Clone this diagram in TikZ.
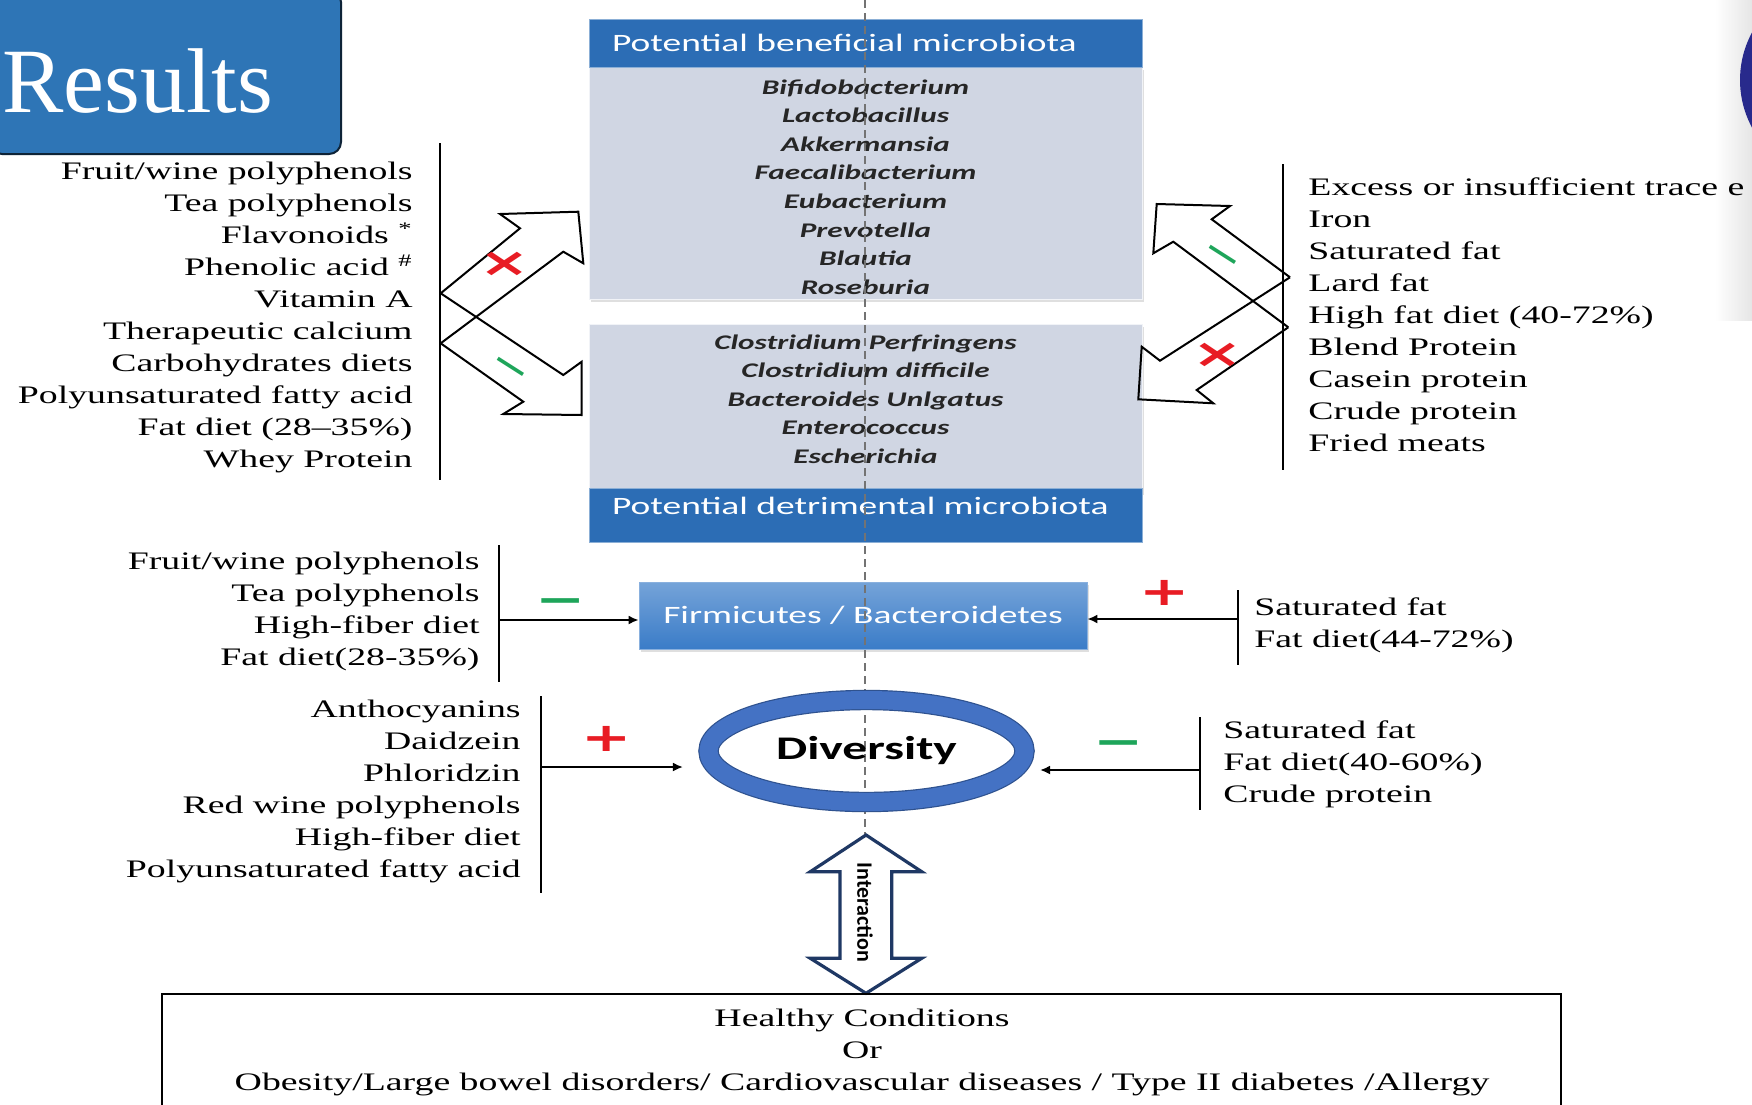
\documentclass[tikz,border=0pt]{standalone}
\usepackage{fontspec}
\setmainfont{Liberation Serif}
\newfontfamily\figserif{Liberation Serif}[FakeStretch=1.5]
\newfontfamily\figsans{Carlito}[FakeStretch=1.5]
\newfontfamily\plainsans{Carlito}
\newfontfamily\signfont{DejaVu Sans}[FakeStretch=1.5]
\usetikzlibrary{arrows.meta,shapes.geometric,shadows}

\definecolor{hdblue}{RGB}{44,109,181}
\definecolor{firmblue}{RGB}{58,124,200}
\definecolor{bodygray}{RGB}{208,214,227}
\definecolor{ringblue}{RGB}{68,114,196}
\definecolor{ringdark}{RGB}{47,82,143}
\definecolor{resblue}{RGB}{46,117,182}
\definecolor{navy}{RGB}{31,56,100}
\definecolor{slidenavy}{RGB}{40,42,140}
\definecolor{minusgreen}{RGB}{30,165,90}
\definecolor{plusred}{RGB}{232,28,36}

\begin{document}
\begin{tikzpicture}[x=0.5pt,y=-0.5pt,>={Latex[length=5pt,width=4.5pt]},
  lst/.style={font=\figserif\fontsize{12.6}{16}\selectfont,inner sep=0pt},
  bar/.style={line width=1.2pt},
  conn/.style={->,line width=0.9pt},
  harrow/.style={line width=1pt,line join=miter},
  hdr/.style={fill=hdblue,draw=hdblue!55!white,text=white,
    font=\figsans\fontsize{12.5}{14}\selectfont,inner xsep=11.5pt,inner ysep=0pt,
    text width=253.5pt,align=left,minimum height=24pt,text height=9pt,text depth=0.5pt},
  bodybox/.style={fill=bodygray,draw=white!70!bodygray,minimum width=276.5pt,
    drop shadow={shadow xshift=1pt,shadow yshift=-1.5pt,opacity=0.25}},
  species/.style={font=\figsans\bfseries\itshape\fontsize{10.4}{14.3}\selectfont,
    align=center,inner sep=0pt,text=black!85},
  sign/.style={font=\signfont\bfseries\fontsize{20}{20}\selectfont,inner sep=0pt,
    text height=14.4pt,text depth=0pt},
]
\useasboundingbox (0,0) rectangle (1752,1104);
\clip (0,0) rectangle (1752,1104);
\fill[white] (0,0) rectangle (1752,1104);

% slide title and corner
\draw[fill=resblue,draw=black!70!resblue,line width=1pt,rounded corners=6pt] (-10,-10) rectangle (341,154);
\node[anchor=base west,text=white,font=\fontsize{46}{46}\selectfont,inner sep=0pt] (res) at (2,112) {Results};
\shade[left color=white,right color=black!10] (1715,0) rectangle (1752,320);
\fill[slidenavy] (1840,80) circle[radius=100];

% microbiota boxes
\node[bodybox,minimum height=116pt] (benbd) at (865.5,183) {};
\node[hdr] (benhd) at (865.5,43) {Potential beneficial microbiota};
\node[species] (benlist) at (865.5,187) {Bifidobacterium\\Lactobacillus\\Akkermansia\\Faecalibacterium\\Eubacterium\\Prevotella\\Blautia\\Roseburia};
\node[bodybox,minimum height=84pt] (detbd) at (865.5,408) {};
\node[hdr,minimum height=27pt,text height=11pt,text depth=12pt] (dethd) at (865.5,515) {Potential detrimental microbiota};
\node[species] (detlist) at (865.5,399) {Clostridium Perfringens\\Clostridium difficile\\Bacteroides Unlgatus\\Enterococcus\\Escherichia};

\node[draw=firmblue!60!white,top color=firmblue!70!white,bottom color=firmblue,text=white,
  font=\figsans\fontsize{12.5}{14}\selectfont,minimum width=224pt,minimum height=33.5pt,
  drop shadow={shadow xshift=1pt,shadow yshift=-1.5pt,opacity=0.25}] (firm) at (863,615.5) {Firmicutes / Bacteroidetes};

% centre axis
\coordinate (axtop) at (865,0);
\coordinate (axbot) at (865,835);
\draw[black!55,line width=1.3pt,dash pattern=on 4pt off 2.5pt] (axtop) -- (axbot);

\node[ellipse,draw=ringdark,double=ringblue,double distance=9pt,line width=0.6pt,outer sep=0pt,
  minimum width=158pt,minimum height=51pt,inner sep=0pt,
  font=\figsans\bfseries\fontsize{16.5}{18}\selectfont] (div) at (866.5,751) {Diversity};

% interaction
\draw[navy,line width=1.6pt,fill=white,line join=miter] (866,835) -- (921.7,871.7) -- (891.7,871.7)
  -- (891.7,958.3) -- (921.7,958.3) -- (866,993.3) -- (810.3,958.3) -- (840,958.3)
  -- (840,871.7) -- (810.3,871.7) -- cycle;
\node[rotate=-90,font=\plainsans\bfseries\fontsize{11}{12}\selectfont,inner sep=0pt] (inter) at (865,912.5) {Interaction};

% factor lists
\node[lst,align=right,anchor=east] (srcA) at (413,317) {Fruit/wine polyphenols\\Tea polyphenols\\Flavonoids \textsuperscript{*}\\Phenolic acid \textsuperscript{\#}\\Vitamin A\\Therapeutic calcium\\Carbohydrates diets\\Polyunsaturated fatty acid\\Fat diet (28–35\%)\\Whey Protein};
\node[lst,align=left,anchor=west] (srcB) at (1308,315) {Excess or insufficient trace e\\Iron\\Saturated fat\\Lard fat\\High fat diet (40-72\%)\\Blend Protein\\Casein protein\\Crude protein\\Fried meats};
\node[lst,align=right,anchor=east] (srcC) at (480,611) {Fruit/wine polyphenols\\Tea polyphenols\\High-fiber diet\\Fat diet(28-35\%)};
\node[lst,align=left,anchor=west] (srcD) at (1254,625.5) {Saturated fat\\Fat diet(44-72\%)};
\node[lst,align=right,anchor=east] (srcE) at (521,791) {Anthocyanins\\Daidzein\\Phloridzin\\Red wine polyphenols\\High-fiber diet\\Polyunsaturated fatty acid};
\node[lst,align=left,anchor=west] (srcF) at (1223,764) {Saturated fat\\Fat diet(40-60\%)\\Crude protein};

\draw[bar] (440,143) -- (440,480);
\draw[bar] (1283,164) -- (1283,470);
\draw[bar] (499,545) -- (499,682);
\draw[bar] (1238,590) -- (1238,665);
\draw[bar] (541,696) -- (541,893);
\draw[bar] (1200,717) -- (1200,810);

% hollow arrows
\draw[harrow] (440.7,293.3) -- (520,228.3) -- (500,214) -- (578.3,211.7) -- (583.3,263.3) -- (563.3,251.7) -- (440.7,343.3);
\draw[harrow] (440.7,293.3) -- (563.3,375) -- (581.7,361.7) -- (581.7,415) -- (503.3,414) -- (523.3,401.7) -- (440.7,343.3);
\draw[harrow] (1290,277.3) -- (1211.7,219.3) -- (1230,206) -- (1156.7,204) -- (1153.3,253.3) -- (1173.3,241.7) -- (1288.3,327.3);
\draw[harrow] (1290,277.3) -- (1160,360.7) -- (1141.7,346.7) -- (1138.3,399.3) -- (1213.3,403.3) -- (1196.7,390) -- (1288.3,327.3);

% straight arrows
\coordinate (cC) at (499,620);
\coordinate (cD) at (1238,619);
\coordinate (cE) at (541,767);
\coordinate (cF) at (1200,770);
\draw[conn] (cC) -- (cC -| firm.west);
\draw[conn] (cD) -- (cD -| firm.east);
\draw[conn,shorten >=12.8pt] (cE) -- (cE -| div.west);
\draw[conn,shorten >=7.8pt] (cF) -- (cF -| div.east);

% signs
\node[sign,text=minusgreen] (mC) at (561,599) {−};
\node[sign,text=plusred] (pD) at (1165,591) {+};
\node[sign,text=plusred] (pE) at (607,737) {+};
\node[sign,text=minusgreen] (mF) at (1118.6,741) {−};
\node[sign,text=plusred] (xA) at (505,262) {×};
\node[sign,text=plusred] (xB) at (1218,353) {×};
\node[sign,text=minusgreen,rotate=-32.5,scale=0.8] (mA) at (511.7,365.8) {−};
\node[sign,text=minusgreen,rotate=-32.5,scale=0.8] (mB) at (1224,253.3) {−};

% outcome box
\draw[line width=1.2pt] (162,1110) -- (162,994) -- (1561,994) -- (1561,1110);
\node[lst,align=center] (cond) at (862,1052) {Healthy Conditions\\Or\\Obesity/Large bowel disorders/ Cardiovascular diseases / Type II diabetes /Allergy};
\end{tikzpicture}
\end{document}
